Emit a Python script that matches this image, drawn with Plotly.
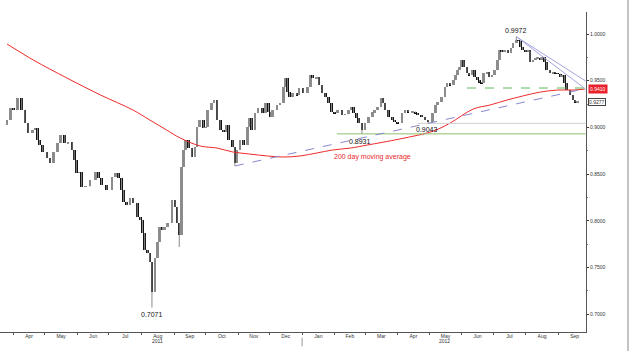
import plotly.graph_objects as go

# ---------------- data ----------------
dates = [
    "2011-03-26", "2011-03-29", "2011-04-01", "2011-04-05", "2011-04-09", "2011-04-12", "2011-04-15", "2011-04-19",
    "2011-04-22", "2011-04-24", "2011-04-26", "2011-04-29", "2011-05-03", "2011-05-06", "2011-05-09", "2011-05-13",
    "2011-05-16", "2011-05-20", "2011-05-23", "2011-05-27", "2011-05-29", "2011-05-31", "2011-06-03", "2011-06-05",
    "2011-06-09", "2011-06-13", "2011-06-18", "2011-06-21", "2011-06-24", "2011-06-29", "2011-07-04", "2011-07-07",
    "2011-07-10", "2011-07-13", "2011-07-15", "2011-07-18", "2011-07-21", "2011-07-24", "2011-07-28", "2011-07-31",
    "2011-08-02", "2011-08-04", "2011-08-07", "2011-08-09", "2011-08-11", "2011-08-14", "2011-08-16", "2011-08-18",
    "2011-08-21", "2011-08-23", "2011-08-26", "2011-08-30", "2011-09-02", "2011-09-04", "2011-09-06", "2011-09-08",
    "2011-09-10", "2011-09-12", "2011-09-15", "2011-09-18", "2011-09-21", "2011-09-23", "2011-09-25", "2011-09-29",
    "2011-10-01", "2011-10-03", "2011-10-07", "2011-10-09", "2011-10-12", "2011-10-15", "2011-10-18", "2011-10-21",
    "2011-10-23", "2011-10-27", "2011-10-29", "2011-10-31", "2011-11-03", "2011-11-06", "2011-11-10", "2011-11-12",
    "2011-11-14", "2011-11-17", "2011-11-20", "2011-11-24", "2011-11-27", "2011-11-30", "2011-12-02", "2011-12-04",
    "2011-12-08", "2011-12-11", "2011-12-14", "2011-12-16", "2011-12-18", "2011-12-20", "2011-12-23", "2011-12-27",
    "2011-12-29", "2012-01-02", "2012-01-06", "2012-01-09", "2012-01-11", "2012-01-15", "2012-01-17", "2012-01-20",
    "2012-01-23", "2012-01-26", "2012-01-29", "2012-02-01", "2012-02-04", "2012-02-08", "2012-02-11", "2012-02-14",
    "2012-02-17", "2012-02-19", "2012-02-22", "2012-02-24", "2012-02-27", "2012-03-01", "2012-03-04", "2012-03-08",
    "2012-03-10", "2012-03-13", "2012-03-16", "2012-03-18", "2012-03-20", "2012-03-23", "2012-03-27", "2012-03-29",
    "2012-04-01", "2012-04-05", "2012-04-08", "2012-04-11", "2012-04-15", "2012-04-18", "2012-04-20", "2012-04-24",
    "2012-04-27", "2012-04-30", "2012-05-04", "2012-05-07", "2012-05-09", "2012-05-13", "2012-05-16", "2012-05-18",
    "2012-05-21", "2012-05-24", "2012-05-26", "2012-05-28", "2012-05-30", "2012-06-01", "2012-06-03", "2012-06-06",
    "2012-06-08", "2012-06-11", "2012-06-13", "2012-06-16", "2012-06-18", "2012-06-20", "2012-06-22", "2012-06-25",
    "2012-06-27", "2012-06-30", "2012-07-02", "2012-07-05", "2012-07-07", "2012-07-09", "2012-07-12", "2012-07-15",
    "2012-07-18", "2012-07-20", "2012-07-23", "2012-07-25", "2012-07-27", "2012-07-29", "2012-08-01", "2012-08-03",
    "2012-08-05", "2012-08-08", "2012-08-10", "2012-08-12", "2012-08-15", "2012-08-17", "2012-08-19", "2012-08-21",
    "2012-08-24", "2012-08-27", "2012-08-29", "2012-08-31", "2012-09-03", "2012-09-05", "2012-09-07", "2012-09-09",
    "2012-09-12", "2012-09-15", "2012-09-17", "2012-09-19",
]
closes = [
    0.9079, 0.9208, 0.9186, 0.9315, 0.9186, 0.9047, 0.8940, 0.8972,
    0.8994, 0.8865, 0.8811, 0.8737, 0.8672, 0.8619, 0.8737, 0.8833,
    0.8919, 0.8833, 0.8844, 0.8758, 0.8651, 0.8512, 0.8522, 0.8362,
    0.8368, 0.8437, 0.8522, 0.8458, 0.8383, 0.8330, 0.8469, 0.8512,
    0.8458, 0.8330, 0.8201, 0.8169, 0.8244, 0.8191, 0.8041, 0.8009,
    0.7869, 0.7687, 0.7655, 0.7559, 0.7238, 0.7602, 0.7773, 0.7934,
    0.7901, 0.7934, 0.7976, 0.8223, 0.8148, 0.7976, 0.7848, 0.8576,
    0.8758, 0.8865, 0.8779, 0.8683, 0.8790, 0.9004, 0.9079, 0.8994,
    0.9004, 0.9186, 0.9261, 0.9293, 0.9079, 0.8972, 0.8951, 0.9026,
    0.8865, 0.8790, 0.8619, 0.8758, 0.8865, 0.8811, 0.9004, 0.9101,
    0.8972, 0.9154, 0.9208, 0.9154, 0.9261, 0.9165, 0.9111, 0.9186,
    0.9240, 0.9261, 0.9433, 0.9529, 0.9379, 0.9325, 0.9368, 0.9347,
    0.9422, 0.9368, 0.9433, 0.9561, 0.9529, 0.9540, 0.9454, 0.9368,
    0.9325, 0.9261, 0.9165, 0.9154, 0.9186, 0.9133, 0.9140, 0.9186,
    0.9218, 0.9154, 0.9101, 0.9047, 0.8972, 0.9047, 0.9111, 0.9165,
    0.9186, 0.9218, 0.9315, 0.9261, 0.9186, 0.9111, 0.9079, 0.9058,
    0.9047, 0.9154, 0.9186, 0.9165, 0.9170, 0.9154, 0.9133, 0.9111,
    0.9079, 0.9058, 0.9154, 0.9240, 0.9272, 0.9325, 0.9433, 0.9475,
    0.9454, 0.9507, 0.9561, 0.9615, 0.9647, 0.9722, 0.9647, 0.9582,
    0.9561, 0.9615, 0.9540, 0.9507, 0.9486, 0.9475, 0.9582, 0.9593,
    0.9540, 0.9561, 0.9615, 0.9722, 0.9829, 0.9807, 0.9829, 0.9797,
    0.9850, 0.9904, 0.9936, 0.9930, 0.9861, 0.9829, 0.9807, 0.9829,
    0.9700, 0.9722, 0.9743, 0.9748, 0.9722, 0.9754, 0.9700, 0.9615,
    0.9582, 0.9593, 0.9582, 0.9575, 0.9540, 0.9561, 0.9475, 0.9400,
    0.9347, 0.9293, 0.9272, 0.9277,
]
first_open = 0.9030
wick_lows = {"2011-08-11": 0.7071, "2011-09-06": 0.7719, "2011-10-29": 0.8587,
             "2012-02-27": 0.8931, "2012-04-30": 0.9043}
wick_highs = {"2012-07-23": 0.9972}

ma_dates = ["2011-03-26", "2011-04-20", "2011-05-22", "2011-06-23", "2011-07-24", "2011-08-09", "2011-08-25",
            "2011-09-07", "2011-09-26", "2011-10-12", "2011-10-27", "2011-11-12", "2011-11-29", "2011-12-14",
            "2011-12-30", "2012-01-15", "2012-01-30", "2012-02-16", "2012-03-03", "2012-04-03", "2012-05-05",
            "2012-05-21", "2012-06-12", "2012-06-28", "2012-07-14", "2012-07-29", "2012-08-15", "2012-08-31",
            "2012-09-15", "2012-09-26"]
ma_values = [0.9893, 0.9722, 0.9529, 0.9347, 0.9186, 0.9079, 0.8972,
             0.8886, 0.8801, 0.8779, 0.8737, 0.8715, 0.8694, 0.8683,
             0.8694, 0.8726, 0.8758, 0.8779, 0.8811, 0.8876, 0.8961,
             0.9047, 0.9197, 0.9240, 0.9293, 0.9336, 0.9379, 0.9400,
             0.9400, 0.9410]

y_tick_vals = [0.70, 0.75, 0.80, 0.85, 0.90, 0.95, 1.00]
y_tick_text = ["0.7000", "0.7500", "0.8000", "0.8500", "0.9000", "0.9500", "1.0000"]

support_8931 = ("2012-02-03", "2012-09-27", 0.8931)
level_9043 = ("2012-04-20", "2012-09-27", 0.9043)
level_9422 = ("2012-06-06", "2012-09-27", 0.9422)
uptrend = (("2011-10-29", 0.8587), ("2012-09-27", 0.9416))
downtrend_a = (("2012-07-23", 0.9972), ("2012-09-27", 0.9497))
downtrend_b = (("2012-07-23", 0.9972), ("2012-09-27", 0.9411))

ma_label = "0.9410"
last_label = "0.9277"
last_value = 0.9277

# ---------------- build OHLC marks ----------------
opens = [first_open] + closes[:-1]
highs = [wick_highs.get(d, max(o, c)) for d, o, c in zip(dates, opens, closes)]
lows = [wick_lows.get(d, min(o, c)) for d, o, c in zip(dates, opens, closes)]
body_base = [min(o, c) for o, c in zip(opens, closes)]
body_len = [max(abs(c - o), 0.0006) for o, c in zip(opens, closes)]
body_col = ["#8e8e8e" if c >= o else "#111111" for o, c in zip(opens, closes)]

DAY_MS = 86400000
fig = go.Figure()

# wicks
wx, wy = [], []
for d, h, l in zip(dates, highs, lows):
    wx += [d, d, None]
    wy += [l, h, None]
fig.add_trace(go.Scatter(x=wx, y=wy, mode="lines", line=dict(color="#8a8a8a", width=1),
                         showlegend=False, hoverinfo="skip"))
# bodies
fig.add_trace(go.Bar(x=dates, y=body_len, base=body_base, width=2.5 * DAY_MS,
                     marker=dict(color=body_col, line=dict(width=0)),
                     showlegend=False, hoverinfo="skip"))
# 200 day moving average
fig.add_trace(go.Scatter(x=ma_dates, y=ma_values, mode="lines",
                         line=dict(color="#ee2a2a", width=1, shape="spline"),
                         showlegend=False, hoverinfo="skip"))

def hline(spec, color, dash, width=1):
    x0, x1, y = spec
    fig.add_shape(type="line", xref="x", yref="y", x0=x0, x1=x1, y0=y, y1=y,
                  line=dict(color=color, width=width, dash=dash))

def seg(spec, color, dash, width=1):
    (x0, y0), (x1, y1) = spec
    fig.add_shape(type="line", xref="x", yref="y", x0=x0, x1=x1, y0=y0, y1=y1,
                  line=dict(color=color, width=width, dash=dash))

hline(support_8931, "#8fbf6a", "solid", 1)
hline(level_9043, "#cfcfcf", "solid", 1)
hline(level_9422, "#5cb85c", "dash", 1)
seg(uptrend, "#8888cc", "dash", 1)
seg(downtrend_a, "#a4a4dc", "solid", 1)
seg(downtrend_b, "#a4a4dc", "solid", 1)

# frame line at far right and year separator tick
fig.add_shape(type="line", xref="paper", yref="paper", x0=1.0717, x1=1.0717, y0=-0.06, y1=1.04,
              line=dict(color="#8a8a8a", width=1))
fig.add_shape(type="line", xref="x", yref="paper", x0="2012-01-01", x1="2012-01-01", y0=-0.018, y1=-0.045,
              line=dict(color="#999999", width=1))

afont = dict(family="Liberation Sans, Arial, sans-serif", size=7, color="#111111")
fig.add_annotation(x="2012-07-23", y=0.9972, text="0.9972", showarrow=False, yanchor="bottom", yshift=1, font=afont)
fig.add_annotation(x="2011-08-11", y=0.7071, text="0.7071", showarrow=False, yanchor="top", yshift=-1, font=afont)
fig.add_annotation(x="2012-02-25", y=0.8931, text="0.8931", showarrow=False, yanchor="top", yshift=-2, font=afont)
fig.add_annotation(x="2012-04-29", y=0.9043, text="0.9043", showarrow=False, yanchor="top", yshift=-1, font=afont)
fig.add_annotation(x="2012-03-08", y=0.8683, text="200 day moving average", showarrow=False,
                   font=dict(family="Liberation Sans, Arial, sans-serif", size=7, color="#e8262a"))

yfont = dict(family="Liberation Sans, Arial, sans-serif", size=5, color="#333333")
fig.add_annotation(xref="paper", x=1.0, xshift=2, y=0.9410, yref="y", text=ma_label, showarrow=False,
                   xanchor="left", bgcolor="#e8202a", borderpad=1,
                   font=dict(family="Liberation Sans, Arial, sans-serif", size=5, color="white"))
fig.add_annotation(xref="paper", x=1.0, xshift=2, y=last_value, yref="y", text=last_label, showarrow=False,
                   xanchor="left", bgcolor="white", bordercolor="#444444", borderwidth=1, borderpad=0,
                   font=yfont)
fig.add_annotation(x="2011-08-16", y=-0.028, yref="paper", yanchor="middle", text="2011", showarrow=False, font=yfont)
fig.add_annotation(x="2012-05-16", y=-0.028, yref="paper", yanchor="middle", text="2012", showarrow=False, font=yfont)

fig.update_layout(
    width=640, height=351, autosize=False,
    margin=dict(l=0, r=54, t=12, b=19),
    paper_bgcolor="white", plot_bgcolor="white",
    barmode="overlay", bargap=0,
    xaxis=dict(
        type="date", range=["2011-03-19 07:00", "2012-09-27 09:00"],
        showgrid=False, zeroline=False, showline=True, linecolor="#555555", linewidth=1,
        dtick="M1", tick0="2011-04-01", ticklabelmode="period", tickformat="%b",
        ticks="outside", ticklen=2, tickcolor="#555555", ticklabelstandoff=-3,
        tickfont=yfont,
    ),
    yaxis=dict(
        side="right", range=[0.6809, 1.0236],
        showgrid=False, zeroline=False, showline=True, linecolor="#555555", linewidth=1,
        tickmode="array", tickvals=y_tick_vals, ticktext=y_tick_text,
        ticks="outside", ticklen=2, tickcolor="#333333", tickfont=yfont,
        minor=dict(ticks="outside", ticklen=1, dtick=0.025, tick0=0.7, tickcolor="#777777"),
    ),
)

fig.write_html("out.html")
